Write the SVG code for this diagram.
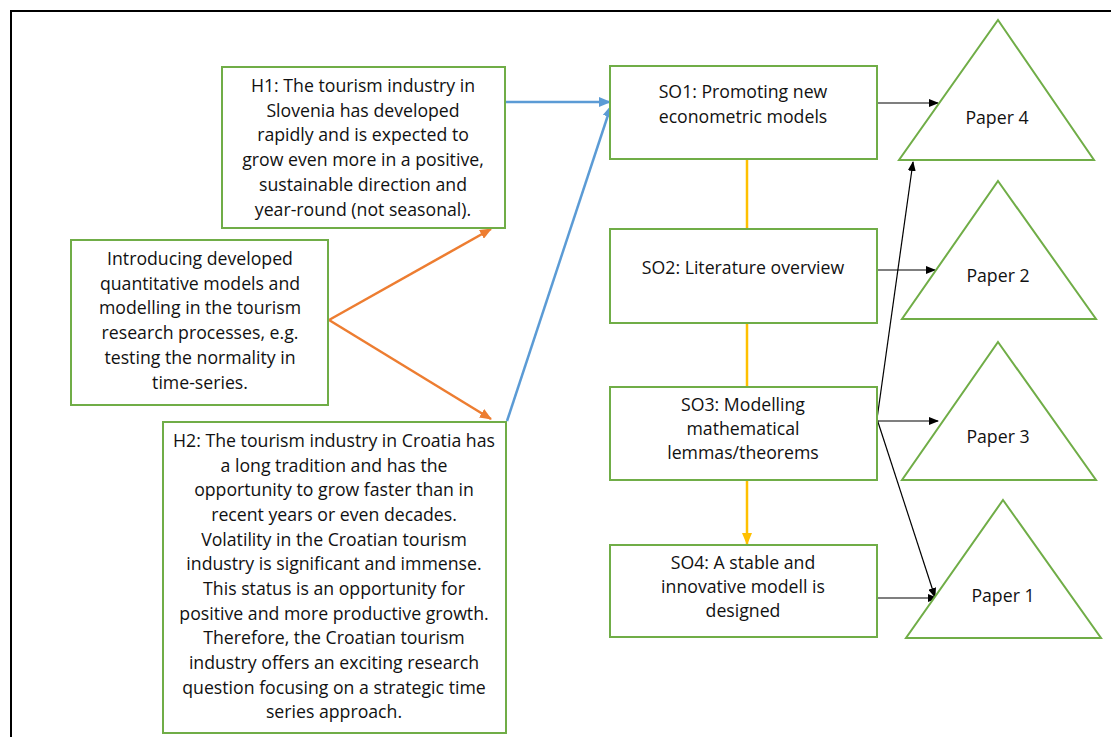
<svg xmlns="http://www.w3.org/2000/svg" width="1111" height="737" viewBox="0 0 1111 737">
<style>
.box{fill:#fff;stroke:#70AD47;stroke-width:2}
.tri{fill:#fff;stroke:#70AD47;stroke-width:2}
text{font-family:"Open Sans","Liberation Sans",Arial,sans-serif;font-size:17.7px;fill:#111;text-anchor:middle}
.blk{stroke:#000;stroke-width:1.2;fill:none}
.org{stroke:#ED7D31;stroke-width:2.5;fill:none}
.blu{stroke:#5B9BD5;stroke-width:2.5;fill:none}
.yel{stroke:#FFC000;stroke-width:2.5;fill:none}
</style>
<defs>
<marker id="ab" markerWidth="10" markerHeight="8" refX="9" refY="4" orient="auto" markerUnits="userSpaceOnUse"><path d="M0,0 L10,4 L0,8 z" fill="#000"/></marker>
<marker id="ao" markerWidth="12" markerHeight="10" refX="11" refY="5" orient="auto" markerUnits="userSpaceOnUse"><path d="M0,0 L12,5 L0,10 z" fill="#ED7D31"/></marker>
<marker id="au" markerWidth="12" markerHeight="10" refX="11" refY="5" orient="auto" markerUnits="userSpaceOnUse"><path d="M0,0 L12,5 L0,10 z" fill="#5B9BD5"/></marker>
<marker id="ay" markerWidth="12" markerHeight="10" refX="11" refY="5" orient="auto" markerUnits="userSpaceOnUse"><path d="M0,0 L12,5 L0,10 z" fill="#FFC000"/></marker>
</defs>
<rect width="1111" height="737" fill="#fff"/>
<rect x="11" y="11" width="1120" height="750" fill="none" stroke="#000" stroke-width="2"/>

<g id="connectors">
<line class="org" x1="329" y1="320" x2="491" y2="229" marker-end="url(#ao)"/>
<line class="org" x1="329" y1="320" x2="491" y2="419" marker-end="url(#ao)"/>
<line class="blu" x1="505" y1="102" x2="610" y2="102" marker-end="url(#au)"/>
<line class="blu" x1="507" y1="421" x2="611" y2="106" marker-end="url(#au)"/>
<line class="yel" x1="747" y1="159" x2="747" y2="229"/>
<line class="yel" x1="747" y1="323" x2="747" y2="387"/>
<line class="yel" x1="747" y1="480" x2="747" y2="544" marker-end="url(#ay)"/>
<line class="blk" x1="877" y1="103" x2="938" y2="103" marker-end="url(#ab)"/>
<line class="blk" x1="877" y1="270" x2="935" y2="270" marker-end="url(#ab)"/>
<line class="blk" x1="877" y1="421" x2="938" y2="421" marker-end="url(#ab)"/>
<line class="blk" x1="877" y1="598" x2="937" y2="598" marker-end="url(#ab)"/>
<line class="blk" x1="877" y1="419" x2="913" y2="162" marker-end="url(#ab)"/>
<line class="blk" x1="877" y1="419" x2="935" y2="597" marker-end="url(#ab)"/>
</g>

<g id="h1">
<rect class="box" x="222" y="67" width="283" height="161"/>
<text x="363" y="92">H1: The tourism industry in</text>
<text x="363" y="117">Slovenia has developed</text>
<text x="363" y="141">rapidly and is expected to</text>
<text x="363" y="166">grow even more in a positive,</text>
<text x="363" y="191">sustainable direction and</text>
<text x="363" y="216">year-round (not seasonal).</text>
</g>

<g id="intro">
<rect class="box" x="71" y="240" width="257" height="165"/>
<text x="200" y="265">Introducing developed</text>
<text x="200" y="290">quantitative models and</text>
<text x="200" y="314">modelling in the tourism</text>
<text x="200" y="339">research processes, e.g.</text>
<text x="200" y="364">testing the normality in</text>
<text x="200" y="389">time-series.</text>
</g>

<g id="h2">
<rect class="box" x="163" y="422" width="343" height="311"/>
<text x="334" y="447">H2: The tourism industry in Croatia has</text>
<text x="334" y="472">a long tradition and has the</text>
<text x="334" y="496">opportunity to grow faster than in</text>
<text x="334" y="521">recent years or even decades.</text>
<text x="334" y="546">Volatility in the Croatian tourism</text>
<text x="334" y="570">industry is significant and immense.</text>
<text x="334" y="595">This status is an opportunity for</text>
<text x="334" y="620">positive and more productive growth.</text>
<text x="334" y="644">Therefore, the Croatian tourism</text>
<text x="334" y="669">industry offers an exciting research</text>
<text x="334" y="694">question focusing on a strategic time</text>
<text x="334" y="718">series approach.</text>
</g>

<g id="so1">
<rect class="box" x="610" y="66" width="267" height="93"/>
<text x="743" y="98">SO1: Promoting new</text>
<text x="743" y="123">econometric models</text>
</g>
<g id="so2">
<rect class="box" x="610" y="229" width="267" height="94"/>
<text x="743" y="274">SO2: Literature overview</text>
</g>
<g id="so3">
<rect class="box" x="610" y="387" width="267" height="93"/>
<text x="743" y="411">SO3: Modelling</text>
<text x="743" y="435">mathematical</text>
<text x="743" y="459">lemmas/theorems</text>
</g>
<g id="so4">
<rect class="box" x="610" y="545" width="267" height="92"/>
<text x="743" y="569">SO4: A stable and</text>
<text x="743" y="593">innovative modell is</text>
<text x="743" y="617">designed</text>
</g>

<g id="paper4">
<polygon class="tri" points="998,20 1094,160 899,160"/>
<text x="997" y="124">Paper 4</text>
</g>
<g id="paper2">
<polygon class="tri" points="998,181 1096,319 902,319"/>
<text x="998" y="282">Paper 2</text>
</g>
<g id="paper3">
<polygon class="tri" points="998,342 1096,480 902,480"/>
<text x="998" y="443">Paper 3</text>
</g>
<g id="paper1">
<polygon class="tri" points="1003,500 1101,638 906,638"/>
<text x="1003" y="602">Paper 1</text>
</g>
</svg>
